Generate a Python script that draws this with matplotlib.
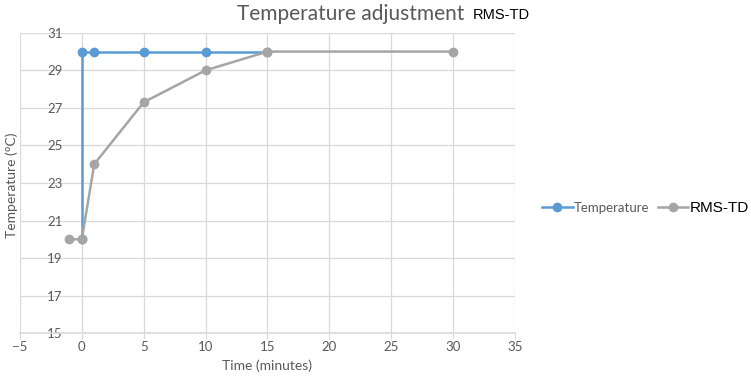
import matplotlib as mpl

mpl.use('Agg')
import matplotlib.pyplot as plt
from matplotlib.lines import Line2D

# data
temp_x = [0, 0, 1, 5, 10, 15]
temp_y = [20, 30, 30, 30, 30, 30]
rms_x = [-1, 0, 1, 5, 10, 15, 30]
rms_y = [20, 20, 24, 27.3, 29, 30, 30]
x_ticks = [-5, 0, 5, 10, 15, 20, 25, 30, 35]
y_ticks = [15, 17, 19, 21, 23, 25, 27, 29, 31]

BLUE = '#5B9BD5'
GREY = '#A5A5A5'
TEXT = '#595959'
GRID = '#D9D9D9'

plt.rcParams['font.family'] = ['Lato', 'DejaVu Sans']

fig = plt.figure(figsize=(7.51, 3.86), dpi=100)
ax = fig.add_axes([0.0266, 0.137, 0.659, 0.778])

ax.plot(temp_x, temp_y, color=BLUE, linewidth=1.8, marker='o', markersize=6,
        label='Temperature', zorder=3)
ax.plot(rms_x, rms_y, color=GREY, linewidth=1.8, marker='o', markersize=6,
        label='RMS-TD', zorder=4)

ax.set_xlim(-5, 35)
ax.set_ylim(15, 31)
ax.set_xticks(x_ticks)
ax.set_yticks(y_ticks)
ax.grid(True, color=GRID, linewidth=0.9, zorder=0)

for side in ('top', 'right'):
    ax.spines[side].set_visible(False)
ax.spines['left'].set_position(('data', 0))
ax.spines['left'].set_color(GRID)
ax.spines['bottom'].set_color(GRID)
ax.spines['bottom'].set_linewidth(1.2)
ax.tick_params(axis='x', colors=TEXT, labelsize=9.5, length=4, color=GRID, pad=2)
ax.tick_params(axis='y', colors=TEXT, labelsize=9.5, length=0, pad=14)

ax.set_xlabel('Time (minutes)', color=TEXT, fontsize=10, labelpad=4)
fig.text(0.016, 0.52, 'Temperature (°C)', rotation=90, color=TEXT,
         fontsize=10, ha='center', va='center')

fig.text(0.619, 0.965, 'Temperature adjustment', color=TEXT, fontsize=15,
         ha='right', va='center')
fig.text(0.630, 0.962, 'RMS-TD', color='black', fontsize=10.5,
         family='Liberation Sans', ha='left', va='center')

handles = [Line2D([0], [0], color=BLUE, lw=1.8, marker='o', markersize=6),
           Line2D([0], [0], color=GREY, lw=1.8, marker='o', markersize=6)]
leg = fig.legend(handles, ['Temperature', 'RMS-TD'], loc='center left',
                 bbox_to_anchor=(0.705, 0.462), ncol=2, frameon=False,
                 handlelength=2.2, handletextpad=0.1, columnspacing=0.6)
t1, t2 = leg.get_texts()
t1.set_color(TEXT)
t1.set_fontsize(9.5)
t2.set_color('black')
t2.set_fontsize(11)
t2.set_family('Liberation Sans')

plt.savefig('out.png', dpi=100)
